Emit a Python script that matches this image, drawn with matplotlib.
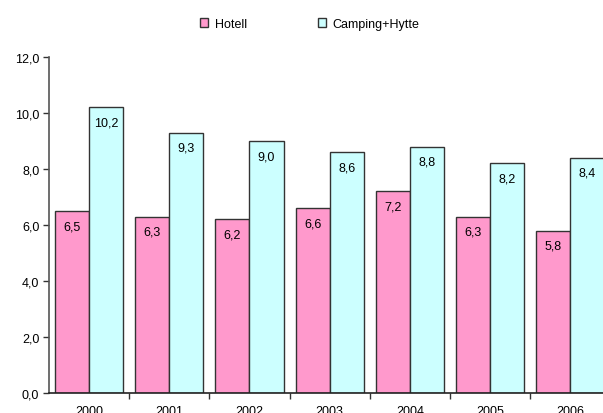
import matplotlib
matplotlib.use("Agg")
import matplotlib.pyplot as plt
import numpy as np

years = ["2000", "2001", "2002", "2003", "2004", "2005", "2006"]
hotell = [6.5, 6.3, 6.2, 6.6, 7.2, 6.3, 5.8]
camping = [10.2, 9.3, 9.0, 8.6, 8.8, 8.2, 8.4]
series_names = ["Hotell", "Camping+Hytte"]
y_ticks = [0, 2, 4, 6, 8, 10, 12]

plt.rcParams["font.family"] = ["Liberation Sans", "DejaVu Sans"]
plt.rcParams["font.size"] = 9

W, H = 603, 414
fig = plt.figure(figsize=(W / 100, H / 100), dpi=100)
fig.patch.set_facecolor("white")

# axes placed in pixel terms: y=0 at 394 px, y=12 at 58 px, left spine at 49 px
group_px = 80.2
ax = fig.add_axes([49 / W, (H - 394) / H, group_px * 7 / W, 336 / H])

x = np.arange(len(years))
w = 0.425
edge = "#333333"
b1 = ax.bar(x - w / 2, hotell, w, color="#FF99CC", edgecolor=edge, linewidth=1.0,
            label=series_names[0])
b2 = ax.bar(x + w / 2, camping, w, color="#CCFFFF", edgecolor=edge, linewidth=1.0,
            label=series_names[1])

for bars, vals in ((b1, hotell), (b2, camping)):
    for rect, v in zip(bars, vals):
        ax.annotate(f"{v:.1f}".replace(".", ","),
                    (rect.get_x() + rect.get_width() / 2, v),
                    xytext=(0, -15), textcoords="offset pixels",
                    ha="center", va="center", fontsize=9, color="black")

ax.set_xlim(-0.5, len(years) - 0.5)
ax.set_ylim(0, 12)
ax.set_yticks(y_ticks)
ax.set_yticklabels([f"{t:.1f}".replace(".", ",") for t in y_ticks])

# year labels at group centers, tick marks at group boundaries
ax.set_xticks(x)
ax.set_xticklabels(years)
ax.tick_params(axis="x", which="major", length=0, pad=9)
ax.set_xticks(np.arange(len(years)) + 0.5, minor=True)
ax.tick_params(axis="x", which="minor", length=4, width=1, color=edge, direction="out")
ax.tick_params(axis="y", length=4.5, width=1, color=edge, pad=2.5, direction="out")

for s in ("top", "right"):
    ax.spines[s].set_visible(False)
ax.spines["left"].set_color("#555555")
ax.spines["left"].set_linewidth(1.2)
ax.spines["bottom"].set_color("#222222")
ax.spines["bottom"].set_linewidth(1.2)

fig.legend(handles=[b1, b2], loc="center", bbox_to_anchor=(0.514, 1 - 25 / H),
           ncol=2, frameon=False, fontsize=9, handlelength=0.64, handleheight=0.64,
           handletextpad=0.56, columnspacing=5.6)

fig.savefig("out.png", dpi=100, facecolor="white")
